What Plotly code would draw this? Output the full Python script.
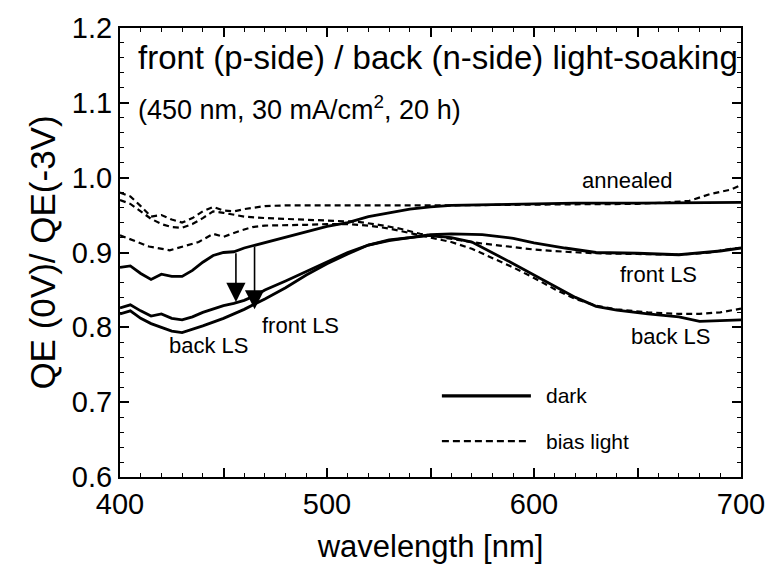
import plotly.graph_objects as go

# ---------------- data ----------------
wl_ann_dark = [400, 405, 410, 415, 420, 425, 430, 435, 440, 445, 450, 455, 460, 470, 480, 490,
               500, 510, 520, 530, 540, 550, 560, 580, 600, 620, 650, 680, 700]
qe_ann_dark = [0.880, 0.882, 0.872, 0.864, 0.871, 0.868, 0.868, 0.876, 0.887, 0.896, 0.900, 0.901, 0.906,
               0.913, 0.920, 0.928, 0.935, 0.940, 0.948, 0.953, 0.958, 0.961, 0.963, 0.964, 0.965,
               0.966, 0.966, 0.967, 0.967]

wl_ann_bias = [400, 405, 410, 415, 420, 425, 430, 435, 440, 445, 450, 455, 460, 470, 480, 500,
               520, 540, 560, 600, 630, 650, 665, 675, 685, 695, 700]
qe_ann_bias = [0.980, 0.975, 0.962, 0.948, 0.950, 0.944, 0.940, 0.946, 0.955, 0.961, 0.956, 0.955, 0.958,
               0.962, 0.963, 0.963, 0.962, 0.962, 0.963, 0.964, 0.964, 0.965, 0.967, 0.969, 0.978,
               0.984, 0.990]

wl_front_dark = [400, 405, 410, 415, 420, 425, 430, 435, 440, 445, 450, 455, 460, 465, 470, 480, 490,
                 500, 510, 520, 530, 540, 550, 560, 575, 590, 600, 615, 630, 650, 670, 690, 700]
qe_front_dark = [0.826, 0.830, 0.822, 0.815, 0.818, 0.812, 0.810, 0.814, 0.820, 0.825, 0.829, 0.832,
                 0.836, 0.842, 0.850, 0.862, 0.875, 0.888, 0.900, 0.910, 0.917, 0.920, 0.924, 0.925,
                 0.924, 0.919, 0.913, 0.906, 0.900, 0.899, 0.897, 0.902, 0.906]

wl_front_bias = [400, 405, 410, 415, 420, 425, 430, 435, 440, 445, 450, 455, 460, 470, 480, 500, 515,
                 525, 535, 545, 555, 565, 575, 590, 600, 615, 630, 650, 670, 685, 695, 700]
qe_front_bias = [0.970, 0.965, 0.955, 0.945, 0.938, 0.934, 0.933, 0.938, 0.946, 0.955, 0.953, 0.950,
                 0.948, 0.946, 0.945, 0.943, 0.941, 0.937, 0.932, 0.925, 0.920, 0.916, 0.912, 0.907,
                 0.904, 0.901, 0.899, 0.898, 0.897, 0.900, 0.905, 0.906]

wl_back_dark = [400, 405, 410, 415, 420, 425, 430, 435, 440, 450, 460, 470, 480, 490, 500, 510, 520,
                530, 540, 550, 560, 570, 580, 590, 600, 610, 620, 630, 640, 655, 670, 680, 690, 700]
qe_back_dark = [0.818, 0.822, 0.812, 0.805, 0.800, 0.795, 0.793, 0.797, 0.802, 0.812, 0.824, 0.838,
                0.853, 0.870, 0.885, 0.898, 0.910, 0.916, 0.920, 0.923, 0.920, 0.914, 0.900, 0.885,
                0.870, 0.855, 0.840, 0.828, 0.823, 0.818, 0.814, 0.808, 0.809, 0.810]

wl_back_bias = [400, 405, 414, 424, 431, 438, 445, 450, 458, 464, 470, 480, 490, 500, 510, 520, 530,
                540, 550, 560, 570, 580, 590, 600, 610, 620, 630, 640, 655, 670, 680, 690, 700]
qe_back_bias = [0.923, 0.918, 0.908, 0.903, 0.908, 0.914, 0.925, 0.921, 0.929, 0.934, 0.936, 0.936,
                0.937, 0.938, 0.938, 0.936, 0.932, 0.926, 0.920, 0.914, 0.905, 0.893, 0.880, 0.866,
                0.851, 0.838, 0.829, 0.824, 0.820, 0.818, 0.818, 0.820, 0.825]

x_ticks = [400, 450, 500, 550, 600, 650, 700]
x_tick_text = ["400", "", "500", "", "600", "", "700"]
y_ticks = [0.6, 0.7, 0.8, 0.9, 1.0, 1.1, 1.2]
y_tick_text = ["0.6", "0.7", "0.8", "0.9", "1.0", "1.1", "1.2"]

# arrows: (wavelength, start value, end value)
arrow_wl = [456, 465]
arrow_from = [0.901, 0.910]
arrow_to = [0.834, 0.824]

# curve labels: (text, wavelength, value)
label_text = ["annealed", "front LS", "back LS", "front LS", "back LS"]
label_wl = [645, 660, 666, 487, 443]
label_val = [0.996, 0.871, 0.788, 0.803, 0.776]

FONT = "Liberation Sans, Arial, Helvetica, sans-serif"
solid = dict(color="black", width=2.8)
dashed = dict(color="black", width=2.2, dash="6px,4px")

fig = go.Figure()
for wl, qe, ln in [
    (wl_ann_dark, qe_ann_dark, solid),
    (wl_ann_bias, qe_ann_bias, dashed),
    (wl_front_dark, qe_front_dark, solid),
    (wl_front_bias, qe_front_bias, dashed),
    (wl_back_dark, qe_back_dark, solid),
    (wl_back_bias, qe_back_bias, dashed),
]:
    fig.add_trace(go.Scatter(x=wl, y=qe, mode="lines", line=ln, showlegend=False,
                             hoverinfo="skip"))

# legend drawn as short lines + text inside the plot
fig.add_shape(type="line", xref="x", yref="y", x0=555.5, x1=598.5, y0=0.7085, y1=0.7085,
              line=dict(color="black", width=3.2))
fig.add_shape(type="line", xref="x", yref="y", x0=555.5, x1=597, y0=0.648, y1=0.648,
              line=dict(color="black", width=2.2, dash="7px,4px"))
fig.add_annotation(x=605, y=0.7085, xref="x", yref="y", text="dark", showarrow=False,
                   xanchor="left", font=dict(size=21, family=FONT, color="black"))
fig.add_annotation(x=605, y=0.648, xref="x", yref="y", text="bias light", showarrow=False,
                   xanchor="left", font=dict(size=21, family=FONT, color="black"))

for t, xw, yv in zip(label_text, label_wl, label_val):
    fig.add_annotation(x=xw, y=yv, xref="x", yref="y", text=t, showarrow=False,
                       font=dict(size=22, family=FONT, color="black"))

for xw, y0, y1 in zip(arrow_wl, arrow_from, arrow_to):
    fig.add_annotation(x=xw, y=y1, ax=xw, ay=y0, xref="x", yref="y", axref="x", ayref="y",
                       text="", showarrow=True, arrowhead=2, arrowsize=2.4, arrowwidth=1.6,
                       arrowcolor="black")

fig.add_annotation(x=0.025, y=1.161, xref="paper", yref="y", xanchor="left",
                   text="front (p-side) / back (n-side) light-soaking", showarrow=False,
                   font=dict(size=33, family=FONT, color="black"))
fig.add_annotation(x=0.025, y=1.093, xref="paper", yref="y", xanchor="left",
                   text="(450 nm, 30 mA/cm<sup>2</sup>, 20 h)", showarrow=False,
                   font=dict(size=27, family=FONT, color="black"))

fig.update_layout(
    width=777, height=572,
    margin=dict(l=120, r=35, t=18, b=95),
    paper_bgcolor="white", plot_bgcolor="white",
    font=dict(family=FONT, color="black", size=29),
    xaxis=dict(range=[400, 700], tickvals=x_ticks, ticktext=x_tick_text,
               ticks="inside", ticklen=9, tickwidth=1.5, tickcolor="black",
               minor=dict(dtick=10, ticks="inside", ticklen=4, tickcolor="black", tickwidth=1),
               showline=True, linecolor="black", linewidth=2.2, mirror="ticks",
               showgrid=False, zeroline=False,
               title=dict(text="wavelength [nm]", font=dict(size=31), standoff=16),
               tickfont=dict(size=29)),
    yaxis=dict(range=[0.6, 1.2], tickvals=y_ticks, ticktext=y_tick_text,
               ticks="inside", ticklen=9, tickwidth=1.5, tickcolor="black",
               minor=dict(dtick=0.02, ticks="inside", ticklen=4, tickcolor="black", tickwidth=1),
               showline=True, linecolor="black", linewidth=2.2, mirror="ticks",
               showgrid=False, zeroline=False,
               title=dict(text="QE (0V)/ QE(-3V)", font=dict(size=35), standoff=6),
               tickfont=dict(size=29)),
)

fig.write_html("out.html")
